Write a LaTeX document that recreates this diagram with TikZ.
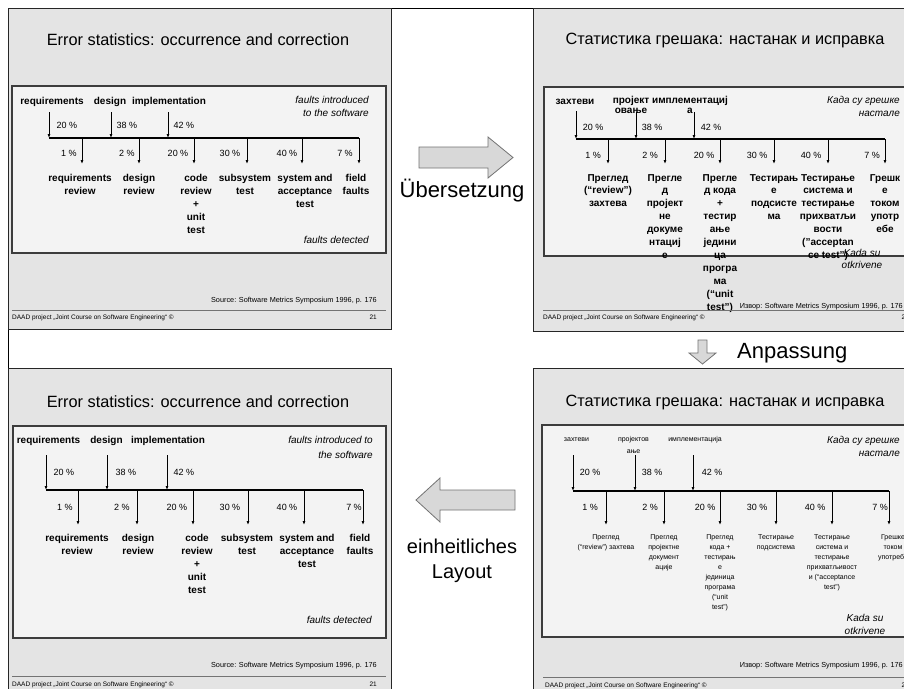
\documentclass[tikz,border=0pt]{standalone}
\usepackage{fontspec}
\setmainfont{Liberation Sans}
\usetikzlibrary{arrows.meta}

\definecolor{slidegray}{HTML}{E4E4E4}
\definecolor{boxgray}{HTML}{F3F3F3}
\definecolor{arrowgray}{HTML}{D8D8D8}
\definecolor{framegray}{HTML}{3C3C3C}

\tikzset{
  slide/.style={draw=black!85, fill=slidegray, line width=0.8pt},
  diagbox/.style={draw=framegray, fill=boxgray, line width=1.3pt},
  titletext/.style={font=\fontsize{16.3}{19}\selectfont, inner sep=0pt},
  phase/.style={font=\bfseries\fontsize{10}{10.5}\selectfont, inner sep=0pt, anchor=base},
  phasesmall/.style={font=\fontsize{7}{12}\selectfont, inner sep=0pt, anchor=base},
  pct/.style={font=\fontsize{9}{11}\selectfont, inner sep=0pt, anchor=base},
  stage/.style={font=\bfseries\fontsize{10}{12.9}\selectfont, inner sep=0pt, align=center, anchor=north},
  stagesmall/.style={font=\fontsize{7}{10}\selectfont, inner sep=0pt, align=center, anchor=north},
  note/.style={font=\itshape\fontsize{10}{13}\selectfont, inner sep=0pt, align=right, anchor=north east},
  source/.style={font=\fontsize{7.3}{8}\selectfont, inner sep=0pt, anchor=base east},
  footer/.style={font=\fontsize{6.5}{7}\selectfont, inner sep=0pt, anchor=base west},
  pagenum/.style={font=\fontsize{6.5}{7}\selectfont, inner sep=0pt, anchor=base east},
  footline/.style={draw=black!55, line width=0.6pt},
  timeline/.style={line width=1.3pt},
  flow/.style={-{Latex[length=4pt,width=3pt]}, line width=0.8pt},
  bigarrow/.style={draw=black!55, fill=arrowgray, line width=0.8pt},
  bigtext/.style={font=\fontsize{22}{25}\selectfont, inner sep=0pt}
}

\begin{document}
\begin{tikzpicture}[x=1pt,y=-1pt]
\clip (0,0) rectangle (904,688);
\fill[white] (0,0) rectangle (904,688);

% Moldura geral
\draw[line width=0.8pt] (8,8) -- (904,8);
\draw[line width=0.8pt] (8,8) -- (8,688);

% Slide 1: original em ingles
\draw[slide] (8,8) rectangle (391,329);
\node[titletext] (s1title) at (198,40) {Error statistics: occurrence and correction};
\draw[diagbox] (12,86) rectangle (386,253);
\node[phase] (s1req) at (52,104) {requirements};
\node[phase] (s1des) at (110,104) {design};
\node[phase] (s1imp) at (169,104) {implementation};
\node[note] (s1intro) at (369,96) {faults introduced\\to the software};

% Setas de entrada e linha do tempo
\coordinate (s1a1) at (49,112);
\coordinate (s1a2) at (111,112);
\coordinate (s1a3) at (168,112);
\coordinate (s1L) at (49,138);
\coordinate (s1R) at (359,138);
\draw[flow] (s1a1) -- (s1a1 |- s1L);
\draw[flow] (s1a2) -- (s1a2 |- s1L);
\draw[flow] (s1a3) -- (s1a3 |- s1L);
\draw[timeline] (s1L) -- (s1R);
\node[pct] (s1p1) at (67,128) {20 \%};
\node[pct] (s1p2) at (127,128) {38 \%};
\node[pct] (s1p3) at (184,128) {42 \%};

% Setas de saida
\coordinate (s1d1) at (82,164);
\coordinate (s1d2) at (139,164);
\coordinate (s1d3) at (194,164);
\coordinate (s1d4) at (247,164);
\coordinate (s1d5) at (302,164);
\coordinate (s1d6) at (359,164);
\draw[flow] (s1d1 |- s1L) -- (s1d1);
\draw[flow] (s1d2 |- s1L) -- (s1d2);
\draw[flow] (s1d3 |- s1L) -- (s1d3);
\draw[flow] (s1d4 |- s1L) -- (s1d4);
\draw[flow] (s1d5 |- s1L) -- (s1d5);
\draw[flow] (s1d6 |- s1L) -- (s1d6);
\node[pct] (s1q1) at (69,156) {1 \%};
\node[pct] (s1q2) at (127,156) {2 \%};
\node[pct] (s1q3) at (178,156) {20 \%};
\node[pct] (s1q4) at (230,156) {30 \%};
\node[pct] (s1q5) at (287,156) {40 \%};
\node[pct] (s1q6) at (345,156) {7 \%};
\node[stage] (s1s1) at (80,174) {requirements\\review};
\node[stage] (s1s2) at (139,174) {design\\review};
\node[stage] (s1s3) at (196,174) {code\\review\\+\\unit\\test};
\node[stage] (s1s4) at (245,174) {subsystem\\test};
\node[stage] (s1s5) at (305,174) {system and\\acceptance\\test};
\node[stage] (s1s6) at (356,174) {field\\faults};
\node[note, anchor=base east] (s1det) at (369,243.5) {faults detected};
\node[source] (s1src) at (377,302.5) {Source: Software Metrics Symposium 1996, p. 176};
\draw[footline] (12,310) -- (386,310);
\node[footer] (s1foot) at (12,319) {DAAD project „Joint Course on Software Engineering“ ©};
\node[pagenum] (s1num) at (377,319) {21};

% Slide 2: primeira traducao
\draw[slide] (533,8) rectangle (912,331);
\node[titletext] (s2title) at (725,40) {Статистика грешака: настанак и исправка};
\draw[diagbox] (544,87) rectangle (912,256);
\node[phase] (s2req) at (575,104) {захтеви};
\node[phase, align=center, anchor=north] (s2des) at (631,96) {пројект\\овање};
\node[phase, align=center, anchor=north] (s2imp) at (690,96) {имплементациј\\а};
\node[note] (s2intro) at (900,96) {Када су грешке\\настале};

% Setas de entrada e linha do tempo
\coordinate (s2a1) at (576,111);
\coordinate (s2a2) at (636,112);
\coordinate (s2a3) at (694,112);
\coordinate (s2L) at (576,139);
\coordinate (s2R) at (885,139);
\draw[flow] (s2a1) -- (s2a1 |- s2L);
\draw[flow] (s2a2) -- (s2a2 |- s2L);
\draw[flow] (s2a3) -- (s2a3 |- s2L);
\draw[timeline] (s2L) -- (s2R);
\node[pct] (s2p1) at (593,130) {20 \%};
\node[pct] (s2p2) at (652,130) {38 \%};
\node[pct] (s2p3) at (711,130) {42 \%};

% Setas de saida
\coordinate (s2d1) at (608,164);
\coordinate (s2d2) at (665,164);
\coordinate (s2d3) at (720,164);
\coordinate (s2d4) at (774,164);
\coordinate (s2d5) at (828,164);
\coordinate (s2d6) at (885,164);
\draw[flow] (s2d1 |- s2L) -- (s2d1);
\draw[flow] (s2d2 |- s2L) -- (s2d2);
\draw[flow] (s2d3 |- s2L) -- (s2d3);
\draw[flow] (s2d4 |- s2L) -- (s2d4);
\draw[flow] (s2d5 |- s2L) -- (s2d5);
\draw[flow] (s2d6 |- s2L) -- (s2d6);
\node[pct] (s2q1) at (593,158) {1 \%};
\node[pct] (s2q2) at (650,158) {2 \%};
\node[pct] (s2q3) at (704,158) {20 \%};
\node[pct] (s2q4) at (757,158) {30 \%};
\node[pct] (s2q5) at (811,158) {40 \%};
\node[pct] (s2q6) at (872,158) {7 \%};
\node[note, align=center, anchor=north, font=\itshape\fontsize{10}{12.5}\selectfont] (s2det) at (862,249) {Kada su\\otkrivene};
\node[stage] (s2s1) at (608,174) {Преглед\\(“review”)\\захтева};
\node[stage] (s2s2) at (665,174) {Прегле\\д\\пројект\\не\\докуме\\нтациј\\е};
\node[stage] (s2s3) at (720,174) {Прегле\\д кода\\+\\тестир\\ање\\једини\\ца\\програ\\ма\\(“unit\\test”)};
\node[stage] (s2s4) at (774,174) {Тестирањ\\е\\подсисте\\ма};
\node[stage] (s2s5) at (828,174) {Тестирање\\система и\\тестирање\\прихватљи\\вости\\("acceptan\\ce test")};
\node[stage] (s2s6) at (885,174) {Грешк\\е\\током\\употр\\ебе};
\node[source] (s2src) at (903,308.5) {Извор: Software Metrics Symposium 1996, p. 176};
\draw[footline] (543,310) -- (912,310);
\node[footer] (s2foot) at (543,319) {DAAD project „Joint Course on Software Engineering“ ©};
\node[pagenum] (s2num) at (909,319) {21};

% Slide 3: layout unificado em ingles
\draw[slide] (8,368) rectangle (391,696);
\node[titletext] (s3title) at (198,402) {Error statistics: occurrence and correction};
\draw[diagbox] (13,426) rectangle (386,638);
\node[phase] (s3req) at (48.5,443.5) {requirements};
\node[phase] (s3des) at (106.5,443.5) {design};
\node[phase] (s3imp) at (168,443.5) {implementation};
\node[note, font=\itshape\fontsize{10}{15}\selectfont] (s3intro) at (373,436) {faults introduced to\\the software};

% Setas de entrada e linha do tempo
\coordinate (s3a1) at (46,455);
\coordinate (s3a2) at (107,455);
\coordinate (s3a3) at (167,455);
\coordinate (s3L) at (46,490);
\coordinate (s3R) at (363,490);
\draw[flow] (s3a1) -- (s3a1 |- s3L);
\draw[flow] (s3a2) -- (s3a2 |- s3L);
\draw[flow] (s3a3) -- (s3a3 |- s3L);
\draw[timeline] (s3L) -- (s3R);
\node[pct] (s3p1) at (64,475) {20 \%};
\node[pct] (s3p2) at (126,475) {38 \%};
\node[pct] (s3p3) at (184,475) {42 \%};

% Setas de saida
\coordinate (s3d1) at (78,525);
\coordinate (s3d2) at (137,525);
\coordinate (s3d3) at (193,525);
\coordinate (s3d4) at (248,525);
\coordinate (s3d5) at (304,525);
\coordinate (s3d6) at (363,525);
\draw[flow] (s3d1 |- s3L) -- (s3d1);
\draw[flow] (s3d2 |- s3L) -- (s3d2);
\draw[flow] (s3d3 |- s3L) -- (s3d3);
\draw[flow] (s3d4 |- s3L) -- (s3d4);
\draw[flow] (s3d5 |- s3L) -- (s3d5);
\draw[flow] (s3d6 |- s3L) -- (s3d6);
\node[pct] (s3q1) at (65,510) {1 \%};
\node[pct] (s3q2) at (122,510) {2 \%};
\node[pct] (s3q3) at (177,510) {20 \%};
\node[pct] (s3q4) at (230,510) {30 \%};
\node[pct] (s3q5) at (287,510) {40 \%};
\node[pct] (s3q6) at (354,510) {7 \%};
\node[stage] (s3s1) at (77,534) {requirements\\review};
\node[stage] (s3s2) at (138,534) {design\\review};
\node[stage] (s3s3) at (197,534) {code\\review\\+\\unit\\test};
\node[stage] (s3s4) at (247,534) {subsystem\\test};
\node[stage] (s3s5) at (307,534) {system and\\acceptance\\test};
\node[stage] (s3s6) at (360,534) {field\\faults};
\node[note, anchor=base east] (s3det) at (372,623.5) {faults detected};
\node[source] (s3src) at (377,667.5) {Source: Software Metrics Symposium 1996, p. 176};
\draw[footline] (12,676) -- (386,676);
\node[footer] (s3foot) at (12,686) {DAAD project „Joint Course on Software Engineering“ ©};
\node[pagenum] (s3num) at (377,686) {21};

% Slide 4: traducao adaptada
\draw[slide] (533,368) rectangle (912,696);
\node[titletext] (s4title) at (725,402) {Статистика грешака: настанак и исправка};
\draw[diagbox] (542,425) rectangle (912,637);
\node[phasesmall] (s4req) at (576.5,441.5) {захтеви};
\node[phasesmall, align=center, anchor=north] (s4des) at (633.5,436) {пројектов\\ање};
\node[phasesmall] (s4imp) at (695,441.5) {имплементација};
\node[note] (s4intro) at (900,436) {Када су грешке\\настале};

% Setas de entrada e linha do tempo
\coordinate (s4a1) at (573,455);
\coordinate (s4a2) at (635,455);
\coordinate (s4a3) at (693,455);
\coordinate (s4L) at (573,491);
\coordinate (s4R) at (889,491);
\draw[flow] (s4a1) -- (s4a1 |- s4L);
\draw[flow] (s4a2) -- (s4a2 |- s4L);
\draw[flow] (s4a3) -- (s4a3 |- s4L);
\draw[timeline] (s4L) -- (s4R);
\node[pct] (s4p1) at (590,475) {20 \%};
\node[pct] (s4p2) at (652,475) {38 \%};
\node[pct] (s4p3) at (712,475) {42 \%};

% Setas de saida
\coordinate (s4d1) at (606,525);
\coordinate (s4d2) at (664,525);
\coordinate (s4d3) at (720,525);
\coordinate (s4d4) at (776,525);
\coordinate (s4d5) at (832,525);
\coordinate (s4d6) at (889,525);
\draw[flow] (s4d1 |- s4L) -- (s4d1);
\draw[flow] (s4d2 |- s4L) -- (s4d2);
\draw[flow] (s4d3 |- s4L) -- (s4d3);
\draw[flow] (s4d4 |- s4L) -- (s4d4);
\draw[flow] (s4d5 |- s4L) -- (s4d5);
\draw[flow] (s4d6 |- s4L) -- (s4d6);
\node[pct] (s4q1) at (590,510) {1 \%};
\node[pct] (s4q2) at (650,510) {2 \%};
\node[pct] (s4q3) at (705,510) {20 \%};
\node[pct] (s4q4) at (757,510) {30 \%};
\node[pct] (s4q5) at (815,510) {40 \%};
\node[pct] (s4q6) at (880,510) {7 \%};
\node[stagesmall] (s4s1) at (606,534) {Преглед\\(“review”) захтева};
\node[stagesmall] (s4s2) at (664,534) {Преглед\\пројектне\\документ\\ације};
\node[stagesmall] (s4s3) at (720,534) {Преглед\\кода +\\тестирањ\\е\\јединица\\програма\\(“unit\\test”)};
\node[stagesmall] (s4s4) at (776,534) {Тестирање\\подсистема};
\node[stagesmall] (s4s5) at (832,534) {Тестирање\\система и\\тестирање\\прихватљивост\\и (“acceptance\\test”)};
\node[stagesmall] (s4s6) at (893,534) {Грешке\\током\\употребе};
\node[note, align=center, anchor=north] (s4det) at (865,614) {Kada su\\otkrivene};
\node[source] (s4src) at (903,667.5) {Извор: Software Metrics Symposium 1996, p. 176};
\draw[footline] (543,677) -- (912,677);
\node[footer] (s4foot) at (545,687) {DAAD project „Joint Course on Software Engineering“ ©};
\node[pagenum] (s4num) at (909,687) {21};

% Setas grandes entre os slides
\draw[bigarrow] (419,147) -- (488,147) -- (488,137) -- (513,157.5) -- (488,178) -- (488,168) -- (419,168) -- cycle;
\node[bigtext, anchor=base] (trans) at (462,197) {Übersetzung};
\draw[bigarrow] (698,340) -- (707,340) -- (707,353) -- (716,353) -- (702.5,364) -- (689,353) -- (698,353) -- cycle;
\node[bigtext, anchor=base west] (adapt) at (737,358) {Anpassung};
\draw[bigarrow] (515,490) -- (440,490) -- (440,478) -- (416,500) -- (440,522) -- (440,510) -- (515,510) -- cycle;
\node[bigtext, align=center, anchor=north, font=\fontsize{20}{25}\selectfont] (layout) at (462,539) {einheitliches\\Layout};

\end{tikzpicture}
\end{document}
